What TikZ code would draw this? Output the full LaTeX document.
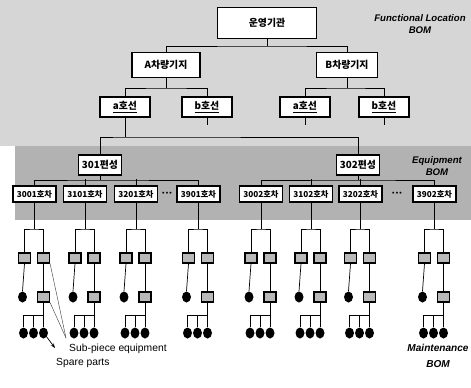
\documentclass[tikz,border=0pt]{standalone}
\usepackage{fontspec}
\setmainfont{Liberation Sans}
\newfontfamily\kr{Noto Sans CJK KR}
\usetikzlibrary{arrows.meta,positioning,calc,shapes.geometric}
\definecolor{flbg}{RGB}{214,214,214}
\definecolor{eqbg}{RGB}{178,178,178}
\definecolor{subfill}{RGB}{185,185,185}

\begin{document}
\begin{tikzpicture}[x=0.03cm, y=-0.03cm,
    org/.style={draw, line width=1pt, fill=white, inner sep=1pt, font=\kr\bfseries\fontsize{8.4}{9}\selectfont},
    car/.style={org, minimum width=1.29cm, minimum height=0.48cm, font=\kr\bfseries\fontsize{7}{8}\selectfont},
    subeq/.style={draw, line width=1pt, fill=subfill, minimum width=0.36cm, minimum height=0.3cm, inner sep=0pt},
    part/.style={ellipse, fill=black, minimum width=0.27cm, minimum height=0.33cm, inner sep=0pt},
    link/.style={line width=0.6pt, black},
    hint/.style={line width=0.4pt, black!70},
    bomlbl/.style={font=\bfseries\itshape\fontsize{8.2}{10}\selectfont, align=center},
    note/.style={font=\fontsize{8.8}{10}\selectfont, anchor=west, inner sep=0pt},
]
% Background bands
\fill[flbg] (0,0) rectangle (471,146);
\fill[eqbg] (15,146) rectangle (471,220);
\useasboundingbox (0,0) rectangle (471,387);

% Functional location levels
\node[org, minimum width=2.97cm, minimum height=0.93cm] (op) at (267,23) {운영기관};
\node[org, minimum width=2.04cm, minimum height=0.75cm] (depA) at (166,65) {A차량기지};
\node[org, minimum width=1.83cm, minimum height=0.75cm] (depB) at (347,65) {B차량기지};
\node[org, minimum width=1.5cm, minimum height=0.6cm] (lnAa) at (125,107) {\underline{a호선}};
\node[org, minimum width=1.5cm, minimum height=0.6cm] (lnAb) at (207,107) {\underline{b호선}};
\node[org, minimum width=1.5cm, minimum height=0.6cm] (lnBa) at (305,107) {\underline{a호선}};
\node[org, minimum width=1.5cm, minimum height=0.6cm] (lnBb) at (384,107) {\underline{b호선}};

% Trainsets
\node[org, minimum width=1.29cm, minimum height=0.6cm] (ts1) at (100,165) {301편성};
\node[org, minimum width=1.29cm, minimum height=0.6cm] (ts2) at (358,165) {302편성};

% Cars
\foreach \cx/\lbl [count=\i] in {34.5/3001호차, 85/3101호차, 136/3201호차, 198.5/3901호차,
                                 261/3002호차, 311/3102호차, 360.5/3202호차, 434.5/3902호차}
  \node[car] (c\i) at (\cx,194) {\lbl};
\node[font=\fontsize{6}{6}\selectfont] (dotsA) at (167,194) {\textbullet\,\textbullet\,\textbullet};
\node[font=\fontsize{6}{6}\selectfont] (dotsB) at (397,194) {\textbullet\,\textbullet\,\textbullet};

% Tree connectors
\coordinate (jop) at (267,46);
\draw[link] (op.south) -- (jop);
\draw[link] (depA.north) |- (jop) -| (depB.north);
\coordinate (jA) at (166,88);
\coordinate (jB) at (347,88);
\draw[link] (depA.south) -- (jA);
\draw[link] (lnAa.north) |- (jA) -| (lnAb.north);
\draw[link] (depB.south) -- (jB);
\draw[link] (lnBa.north) |- (jB) -| (lnBb.north);
\coordinate (jts) at (125,137);
\draw[link] (lnAa.south) -- (jts);
\draw[link] (ts1.north) |- (jts) -| (ts2.north);
\draw[link] (lnAb.south) -- ++(0,7);
\draw[link] (lnBa.south) -- ++(0,7);
\draw[link] (lnBb.south) -- ++(0,7);
\coordinate (jc1) at (100,180);
\coordinate (jc2) at (358,180);
\draw[link] (ts1.south) -- (jc1);
\draw[link] (c1.north) |- (jc1) -| (c4.north);
\draw[link] (ts2.south) -- (jc2);
\draw[link] (c5.north) |- (jc2) -| (c8.north);
\foreach \i in {2,3,6,7}
  \draw[link] (c\i.north) -- ++(0,-6);

% Maintenance BOM under each car
\foreach \cx [count=\i] in {34.5,85,136,198.5,261,311,360.5,434.5}{
  \node[subeq] (sl\i) at (\cx-10,258) {};
  \node[subeq] (sr\i) at (\cx+9,258) {};
  \node[part] (pl\i) at (\cx-12,297) {};
  \node[subeq] (ss\i) at (\cx+9,297) {};
  \node[part] (ba\i) at (\cx-11,333) {};
  \node[part] (bb\i) at (\cx-1,333) {};
  \node[part] (bc\i) at (\cx+9,333) {};
  \coordinate (j\i) at (\cx,229);
  \coordinate (k\i) at (\cx+9,315);
  \draw[link] (c\i.south) -- (j\i);
  \draw[link] (sl\i.north) |- (j\i) -| (sr\i.north);
  \draw[link] (sl\i.south) -- (pl\i.north);
  \draw[link] (sr\i.south) -- (ss\i.north);
  \draw[link] (ss\i.south) -- (k\i) -| (ba\i.north);
  \draw[link] (bb\i.north) |- (k\i);
  \draw[link] (k\i) -- (bc\i.north);
}

% Labels
\node[bomlbl] (flbom) at (420,24) {Functional Location\\BOM};
\node[bomlbl] (eqbom) at (437,166) {Equipment\\BOM};
\node[bomlbl, font=\bfseries\itshape\fontsize{8.6}{13}\selectfont] (mtbom) at (438,356) {Maintenance\\BOM};
\node[note] (subtxt) at (69,349) {Sub-piece equipment};
\node[note] (spare) at (56,363) {Spare parts};
\coordinate (subtip) at (66,338);
\coordinate (sparetip) at (55,348);
\draw[hint] (sr1.south east) -- (subtip);
\draw[hint] (ss1.south east) -- (subtip);
\draw[link, -{Stealth[length=4pt]}] (bc1.south east) -- (sparetip);
\end{tikzpicture}
\end{document}
